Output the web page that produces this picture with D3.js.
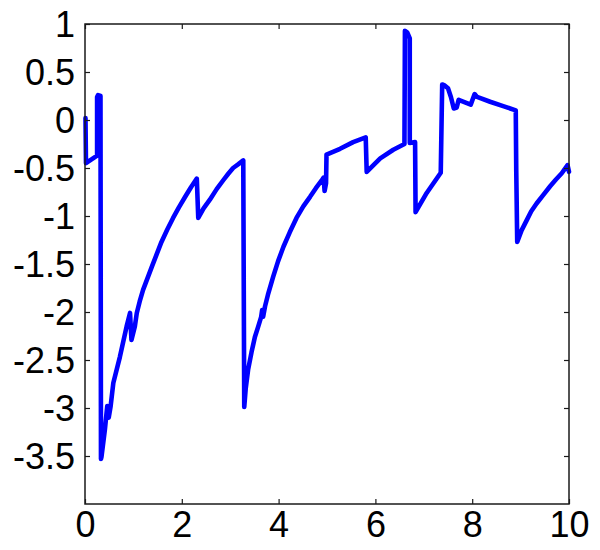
<!DOCTYPE html>
<html>
<head>
<meta charset="utf-8">
<script src="https://cdn.jsdelivr.net/npm/d3@7"></script>
<style>
  html, body { margin: 0; padding: 0; background: #fff; }
  svg { display: block; }
  text { font-family: "Liberation Sans", Arial, Helvetica, sans-serif; }
</style>
</head>
<body>
<svg id="chart" width="600" height="550"></svg>
<script>
// ---- data ----
const xValues = [0.01, 0.02, 0.25, 0.25, 0.27, 0.32, 0.33,
  0.34, 0.41, 0.46, 0.49, 0.53, 0.585, 0.72, 0.86, 0.93, 0.96, 1.03, 1.07, 1.13, 1.20, 1.29, 1.38, 1.48, 1.58, 1.70, 1.82, 1.94, 2.07, 2.19, 2.31,
  2.34, 2.45, 2.58, 2.72, 2.86, 2.96, 3.06, 3.17, 3.27,
  3.29, 3.32, 3.37, 3.44, 3.51, 3.58, 3.64, 3.66, 3.68, 3.72, 3.78, 3.89, 3.99, 4.10, 4.23, 4.37, 4.51, 4.65, 4.77, 4.89, 4.93, 4.95, 4.98,
  4.99, 5.27, 5.54, 5.80,
  5.82, 6.10, 6.37, 6.60,
  6.61, 6.66, 6.71, 6.71, 6.82,
  6.83, 7.06, 7.35,
  7.38, 7.43, 7.50, 7.56, 7.62, 7.68, 7.72, 7.97, 8.05, 8.10, 8.37, 8.64, 8.90,
  8.91, 8.93, 9.02, 9.13, 9.22, 9.33, 9.47, 9.61, 9.73, 9.85, 9.97, 10.0];
const yValues = [0.02, -0.45, -0.37, 0.24, 0.26, 0.25, -3.53,
  -3.51, -3.23, -2.98, -3.10, -2.98, -2.74, -2.47, -2.15, -2.01, -2.29, -2.15, -2.01, -1.89, -1.77, -1.65, -1.53, -1.40, -1.27, -1.14, -1.02, -0.91, -0.80, -0.70, -0.61,
  -1.02, -0.92, -0.83, -0.72, -0.625, -0.56, -0.50, -0.46, -0.42,
  -2.99, -2.80, -2.60, -2.42, -2.26, -2.15, -2.05, -1.98, -2.05, -1.94, -1.82, -1.63, -1.47, -1.32, -1.17, -1.02, -0.90, -0.80, -0.71, -0.63, -0.60, -0.74, -0.66,
  -0.36, -0.30, -0.23, -0.18,
  -0.54, -0.40, -0.31, -0.25,
  0.93, 0.91, 0.85, -0.24, -0.23,
  -0.96, -0.76, -0.55,
  0.37, 0.36, 0.33, 0.24, 0.12, 0.13, 0.21, 0.16, 0.27, 0.24, 0.19, 0.145, 0.10,
  -0.52, -1.27, -1.15, -1.04, -0.95, -0.87, -0.78, -0.69, -0.62, -0.555, -0.47, -0.54];
const xTicks = [0, 2, 4, 6, 8, 10];
const yTicks = [1, 0.5, 0, -0.5, -1, -1.5, -2, -2.5, -3, -3.5];
const xTickLabels = ["0", "2", "4", "6", "8", "10"];
const yTickLabels = ["1", "0.5", "0", "-0.5", "-1", "-1.5", "-2", "-2.5", "-3", "-3.5"];

const data = xValues.map((x, i) => ({ x: x, y: yValues[i] }));

// ---- layout ----
const plotLeft = 85, plotRight = 569, plotTop = 24, plotBottom = 504;
const svg = d3.select("#chart");

const x = d3.scaleLinear().domain([0, 10]).range([plotLeft, plotRight]);
const y = d3.scaleLinear().domain([-4, 1]).range([plotBottom, plotTop]);

const fontSize = 36;
const tickLen = 5;
const axisColor = "#1a1a1a";

// line
const line = d3.line().x(d => x(d.x)).y(d => y(d.y));
svg.append("path")
  .datum(data)
  .attr("d", line)
  .attr("fill", "none")
  .attr("stroke", "#0000ff")
  .attr("stroke-width", 4.6)
  .attr("stroke-linejoin", "round")
  .attr("stroke-linecap", "round");

// frame
svg.append("rect")
  .attr("x", plotLeft).attr("y", plotTop)
  .attr("width", plotRight - plotLeft).attr("height", plotBottom - plotTop)
  .attr("fill", "none").attr("stroke", axisColor).attr("stroke-width", 1.5);

// axes with inward ticks
const xAxisBottom = d3.axisBottom(x).tickValues(xTicks)
  .tickSizeInner(-tickLen).tickSizeOuter(0).tickPadding(7)
  .tickFormat((d, i) => xTickLabels[i]);
const gx = svg.append("g").attr("transform", `translate(0,${plotBottom})`).call(xAxisBottom);

const xAxisTop = d3.axisTop(x).tickValues(xTicks)
  .tickSizeInner(-tickLen).tickSizeOuter(0).tickFormat("");
const gxt = svg.append("g").attr("transform", `translate(0,${plotTop})`).call(xAxisTop);

const yAxisLeft = d3.axisLeft(y).tickValues(yTicks)
  .tickSizeInner(-tickLen).tickSizeOuter(0).tickPadding(10)
  .tickFormat((d, i) => yTickLabels[i]);
const gy = svg.append("g").attr("transform", `translate(${plotLeft},0)`).call(yAxisLeft);

const yAxisRight = d3.axisRight(y).tickValues(yTicks)
  .tickSizeInner(-tickLen).tickSizeOuter(0).tickFormat("");
const gyr = svg.append("g").attr("transform", `translate(${plotRight},0)`).call(yAxisRight);

[gx, gxt, gy, gyr].forEach(g => {
  g.select(".domain").remove();
  g.selectAll(".tick line").attr("stroke", axisColor).attr("stroke-width", 1.2);
  g.selectAll(".tick text")
    .attr("fill", "#000")
    .style("font-size", fontSize + "px")
    .style("font-family", "'Liberation Sans', Arial, Helvetica, sans-serif");
});
gx.selectAll(".tick text").attr("dy", "0.71em");
gy.selectAll(".tick text").attr("dy", "0.36em");
</script>
</body>
</html>
